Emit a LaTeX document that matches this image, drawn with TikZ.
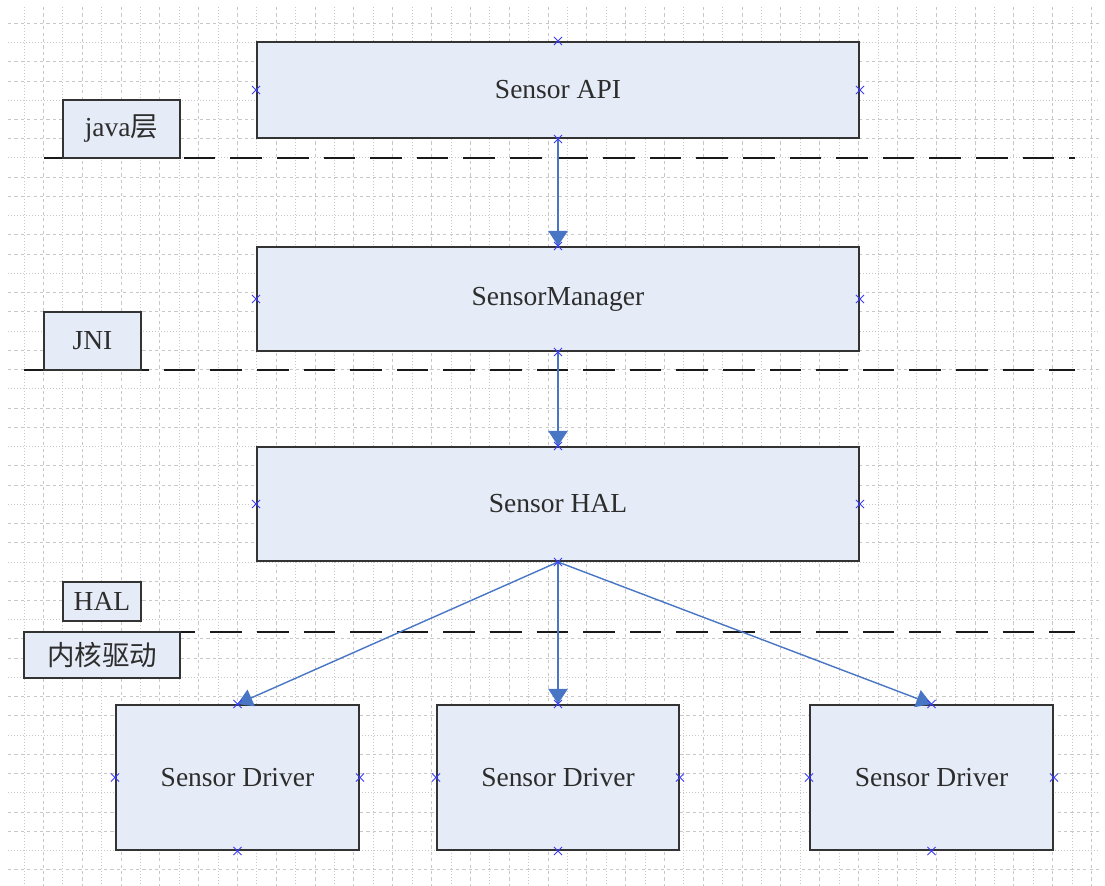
\documentclass[tikz,border=0pt]{standalone}
\usepackage{fontspec}
\setmainfont{Liberation Serif}
\newfontfamily\cjk{Noto Sans CJK SC}
\usetikzlibrary{arrows.meta,fit,shapes.misc}
\definecolor{boxfill}{RGB}{230,236,247}
\definecolor{arrowblue}{RGB}{72,118,196}
\definecolor{markblue}{RGB}{60,60,255}
\definecolor{gridgray}{RGB}{200,200,200}
\definecolor{textgray}{RGB}{45,45,45}
\tikzset{
  box/.style={draw=black!80, line width=1pt, fill=boxfill, inner sep=0pt},
  txt/.style={font=\fontsize{13.75}{16}\selectfont, text=textgray, inner sep=0pt},
  griddash/.style={draw=gridgray, line width=0.5pt, dash pattern=on 1.6pt off 1.6pt},
  griddot/.style={draw=gridgray, line width=0.5pt, dash pattern=on 0.5pt off 1pt},
  layerline/.style={draw=black!90, line width=1pt, dash pattern=on 15.8pt off 7.5pt},
  flow/.style={draw=arrowblue, line width=1pt, -{Triangle[length=7.5pt,width=9.5pt]}},
  flowthin/.style={draw=arrowblue, line width=0.7pt, -{Triangle[length=7.5pt,width=9pt]}},
  xmark/.style={draw=markblue, cross out, minimum size=3.6pt, inner sep=0pt, line width=0.5pt},
}
\begin{document}
\begin{tikzpicture}[x=0.5pt,y=-0.5pt]
\useasboundingbox[fill=white] (0,0) rectangle (1105,886);
% background grid
\foreach \i in {0,...,44}{
  \pgfmathtruncatemacro\m{mod(\i,3)}
  \ifnum\m=1 \def\st{griddot}\else\def\st{griddash}\fi
  \draw[\st] (8,{23.3+19.24*\i}) -- (1100,{23.3+19.24*\i});
}
\foreach \i in {0,...,55}{
  \pgfmathtruncatemacro\m{mod(\i,2)}
  \ifnum\m=0 \def\st{griddot}\else\def\st{griddash}\fi
  \draw[\st] ({24+19.41*\i},7) -- ({24+19.41*\i},886);
}
% layer separators
\coordinate (l1a) at (44,158);  \coordinate (l1b) at (1075,158);
\coordinate (l2a) at (24,370);  \coordinate (l2b) at (1075,370);
\coordinate (l3a) at (24,632);  \coordinate (l3b) at (1075,632);
\draw[layerline] (l1a) -- (l1b);
\draw[layerline] (l2a) -- (l2b);
\draw[layerline] (l3a) -- (l3b);
% main boxes
\node[box, fit={(257,42) (859,138)}] (api) {};
\node[box, fit={(257,247) (859,351)}] (mgr) {};
\node[box, fit={(257,447) (859,561)}] (hal) {};
\node[box, fit={(116,705) (359,850)}] (d1) {};
\node[box, fit={(437,705) (679,850)}] (d2) {};
\node[box, fit={(810,705) (1053,850)}] (d3) {};
\node[txt] (api-t) at (api.center) {Sensor API};
\node[txt] (mgr-t) at (mgr.center) {SensorManager};
\node[txt] (hal-t) at (hal.center) {Sensor HAL};
\node[txt] (d1-t) at (d1.center) {Sensor Driver};
\node[txt] (d2-t) at (d2.center) {Sensor Driver};
\node[txt] (d3-t) at (d3.center) {Sensor Driver};
% layer tags
\node[box, fit={(63,100) (180,158)}] (tjava) {};
\node[box, fit={(44,312) (141,370)}] (tjni) {};
\node[box, fit={(63,582) (141,621)}] (thal) {};
\node[box, fit={(24,632) (180,678)}] (tkern) {};
\node[txt] (tjava-t) at (tjava.center) {java{\cjk 层}};
\node[txt] (tjni-t) at (tjni.center) {JNI};
\node[txt] (thal-t) at (thal.center) {HAL};
\node[txt] (tkern-t) at (tkern.center) {\cjk 内核驱动};
% connectors
\draw[flow] (api.south) -- (mgr.north);
\draw[flow] (mgr.south) -- (hal.north);
\draw[flowthin] (hal.south) -- (d1.north);
\draw[flow] (hal.south) -- (d2.north);
\draw[flowthin] (hal.south) -- (d3.north);
% connection point markers
\foreach \b in {api,mgr,hal,d1,d2,d3}{
  \foreach \a in {north,south,east,west}{
    \node[xmark] (m-\b-\a) at (\b.\a) {};
  }
}
\end{tikzpicture}
\end{document}
